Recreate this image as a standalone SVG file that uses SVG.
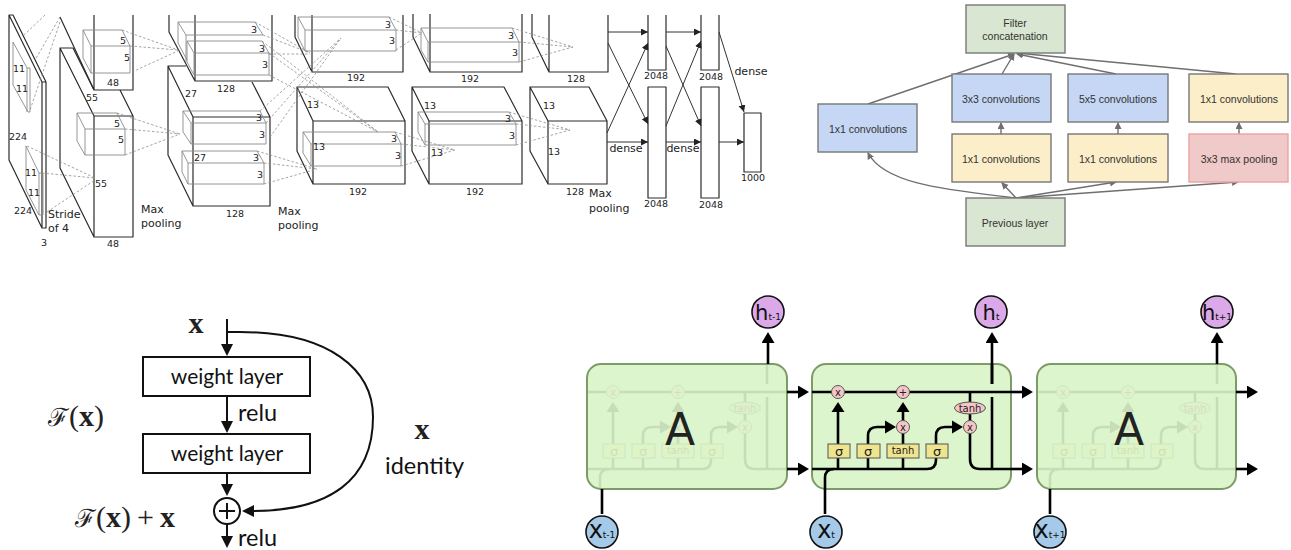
<svg xmlns="http://www.w3.org/2000/svg" width="1291" height="550" viewBox="0 0 1291 550">
<style>
text{font-family:"DejaVu Sans",sans-serif;fill:#222}
.b{fill:none;stroke:#2c2c2c;stroke-width:1.2;stroke-linejoin:round}
.g{fill:none;stroke:#8a8a8a;stroke-width:.9}
.d{fill:none;stroke:#8e8e8e;stroke-width:.8;stroke-dasharray:2.5 2}
.n{font-size:9.500px;text-anchor:middle;dominant-baseline:central}
.l{font-size:11px;text-anchor:middle;dominant-baseline:central}
.ll{font-size:11px;dominant-baseline:central}
.a{fill:none;stroke:#333;stroke-width:1;marker-end:url(#ma)}
.ib{stroke:#777;stroke-width:1.4}
.blue{fill:#c5d7f5}.yel{fill:#fbeec8}.grn{fill:#d9e6d2}.pink{fill:#f0c9c9;stroke:#eca3a3}
.it{font-family:"Liberation Sans",sans-serif;font-size:10.500px;fill:#333;text-anchor:middle;dominant-baseline:central}
.ia{fill:none;stroke:#6f6f6f;stroke-width:1.4;marker-end:url(#mi)}
.rb{fill:#fff;stroke:#111;stroke-width:2}
.ra{fill:none;stroke:#111;stroke-width:2;marker-end:url(#mr)}
.rt{font-family:Lato,"Open Sans",sans-serif;font-size:21px;fill:#111}
.rs{font-family:Lato,"Open Sans",sans-serif;font-size:23.500px;fill:#111}
.m{font-family:"Liberation Serif",serif;font-size:30px;fill:#222}
.k{fill:none;stroke:#000;stroke-width:2.600;stroke-linejoin:round}
.ka{fill:none;stroke:#000;stroke-width:2.600;marker-end:url(#mk)}
.box{fill:#dcf5cc;stroke:#7d9b67;stroke-width:2}
.sg{fill:#f0e58f;stroke:#555;stroke-width:1}
.op{fill:#f5c6c8;stroke:#555;stroke-width:1}
.ot{font-size:10px;text-anchor:middle;dominant-baseline:central;fill:#222}
.hc{fill:#dba9e8;stroke:#111;stroke-width:1.600}
.xc{fill:#a5c9e8;stroke:#111;stroke-width:1.600}
.big{font-size:21px;text-anchor:middle;fill:#111}
.sub{font-size:9px}
</style>
<defs>
<marker id="ma" markerUnits="userSpaceOnUse" markerWidth="8" markerHeight="8" refX="7" refY="3.500" orient="auto"><path d="M0,0L7,3.500L0,7z" fill="#222"/></marker>
<marker id="mi" markerUnits="userSpaceOnUse" markerWidth="8" markerHeight="8" refX="6" refY="3.500" orient="auto"><path d="M0,0L7,3.500L0,7z" fill="#6f6f6f"/></marker>
<marker id="mr" markerUnits="userSpaceOnUse" markerWidth="14" markerHeight="13" refX="2" refY="6" orient="auto"><path d="M0,0L12,6L0,12z" fill="#111"/></marker>
<marker id="mk" markerUnits="userSpaceOnUse" markerWidth="13" markerHeight="14" refX="2" refY="6.500" orient="auto"><path d="M0,0L11,6.500L0,13z" fill="#000"/></marker>
<g id="cell">
<path class="k" d="M812,392H1011"/>
<path class="k" d="M812,469H927Q936,469 936,460V436Q936,427 945,427H952"/>
<path d="M952,420.500L963,427L952,433.500z"/>
<path class="k" d="M838,469V412"/>
<path d="M831.500,412L838,402L844.500,412z"/>
<path class="k" d="M868,469V436Q868,427 877,427H885"/>
<path d="M885,420.500L896,427L885,433.500z"/>
<path class="k" d="M903,469V433M903,421V412"/>
<path d="M896.500,412L903,402L909.500,412z"/>
<path class="k" d="M970,392V459Q970,469 980,469H1011"/>
<path class="k" d="M992,469V397M992,384V364"/>
<path class="k" d="M825,489V478Q825,469 834,469"/>
<rect class="sg" x="828" y="444" width="22" height="14"/><text class="ot" x="839" y="451" style="font-size:13px">σ</text>
<rect class="sg" x="857" y="444" width="23" height="14"/><text class="ot" x="868" y="451" style="font-size:13px">σ</text>
<rect class="sg" x="887" y="444" width="32" height="14"/><text class="ot" x="903" y="450">tanh</text>
<rect class="sg" x="926" y="444" width="22" height="14"/><text class="ot" x="937" y="451" style="font-size:13px">σ</text>
<circle class="op" cx="838" cy="392" r="6.500"/><text class="ot" x="838" y="392">x</text>
<circle class="op" cx="903" cy="392" r="6.500"/><text class="ot" x="903" y="392">+</text>
<circle class="op" cx="903" cy="427" r="6.500"/><text class="ot" x="903" y="427">x</text>
<circle class="op" cx="970" cy="427" r="6.500"/><text class="ot" x="970" y="427">x</text>
<ellipse class="op" cx="970" cy="408" rx="15.500" ry="6"/><text class="ot" x="970" y="408">tanh</text>
</g>
</defs>

<g id="alexnet">
<g id="alex-input">
<path class="b" d="M9,15V160L42,228H46V82L13,15H9L42,82H46M42,82V228"/>
<path class="g" d="M13,42V85L28,112H30V68H27L13,42M27,68V112"/>
<path class="g" d="M26,146V190L39,215H43V173H39L26,146M39,173V215"/>
</g>
<g id="alex-conv1-top">
<path class="b" d="M60,17L94,90H133V15M94,15V90"/>
<path class="g" d="M83,30H122L130,46V73H91V46L83,30V58L91,73M91,46H130"/>
</g>
<g id="alex-conv1-bottom">
<path class="b" d="M120,90L133,116V237H94V116L60,48H73L94,90M94,116H133M60,48V168L94,237"/>
<path class="g" d="M77,113H117L125,129V155H85V129L77,113V141L85,155M85,129H125"/>
</g>
<g id="alex-conv2-top">
<path class="b" d="M169,15V32L195,81H272V15M195,15V81"/>
<path class="g" d="M178,22H255L263,35H186L178,22V43L187,60M186,35V62"/>
<path class="g" d="M187,41H262L269,53V75H194V53L187,41V62L194,75M194,53H269"/>
</g>
<g id="alex-conv2-bottom">
<path class="b" d="M252,82L270,117V206H193V117L168,66H186M193,117H270M168,66V155L193,206"/>
<path class="g" d="M183,111H260L266,123V144H191V123L183,111V132L191,144M191,123H266"/>
<path class="g" d="M182,151H257L264,163V184H188V163L182,151V172L188,184M188,163H264"/>
</g>
<g id="alex-conv3-top">
<path class="b" d="M295,15V37L312,72H403V15M312,15V72"/>
<path class="g" d="M298,17H389L396,30V51H305V30L298,17V37L305,51M305,30H396"/>
</g>
<g id="alex-conv3-bottom">
<path class="b" d="M297,87H388L405,121V184H313V121L297,87V151L313,184M313,121H405"/>
<path class="g" d="M303,132H395L401,144V166H311V144L303,132V153L311,166M311,144H401"/>
</g>
<g id="alex-conv4-top">
<path class="b" d="M413,14V37L430,72H522V14M430,14V72"/>
<path class="g" d="M421,28H512L519,42V62H428V42L421,28V50L428,62M428,42H519"/>
</g>
<g id="alex-conv4-bottom">
<path class="b" d="M412,87H504L522,121V184H429V121L412,87V151L429,184M429,121H522"/>
<path class="g" d="M418,112H509L516,124V145H425V124L418,112V132L425,145M425,124H516"/>
</g>
<g id="alex-conv5-top"><path class="b" d="M532,14V37L549,72H608V15M549,15V72"/></g>
<g id="alex-conv5-bottom"><path class="b" d="M530,87H589L607,121V184H548V121L530,87V151L548,184M548,121H607"/></g>
<g id="alex-dense"><path class="b" d="M648,15V70H666V15M701,15V70H719V15"/>
<rect class="b" x="648" y="87" width="18" height="111"/><rect class="b" x="701" y="87" width="18" height="111"/><rect class="b" x="744" y="113" width="17" height="59"/></g>
<g id="alex-connectors">
<path class="d" d="M45,15L22,37M60,17L35,60M60,22L30,110M27,146L95,178M42,173L95,178M47,212L95,180"/>
<path class="d" d="M122,30L178,50M130,46L178,50M132,72L180,50M117,113L180,134M125,129L180,134M125,155L180,134"/>
<path class="d" d="M255,22L310,53M263,35L310,53M269,54H310M262,41L378,132M269,53L378,132M269,75L378,132"/>
<path class="d" d="M260,111L341,38M266,123L341,38M270,137L341,38M257,151L317,169M264,163L317,169M264,184L317,169"/>
<path class="d" d="M389,17L422,33M396,30L422,33M396,50L422,33M395,132L455,150M401,144L455,150M401,166L455,150"/>
<path class="d" d="M512,28L573,47M519,42L573,47M519,62L573,47M509,112L570,130M516,124L570,130M516,145L570,130"/>
<path class="a" d="M608,32H648"/><path class="a" d="M666,32H701"/><path class="a" d="M608,43L648,124"/><path class="a" d="M666,46L701,126"/>
<path class="a" d="M607,133L648,43"/><path class="a" d="M666,126L701,41"/><path class="a" d="M607,142H648"/><path class="a" d="M666,142H701"/>
<path class="a" d="M719,32L744,112"/><path class="a" d="M719,142H744"/>
</g>
<g id="alex-labels">
<text class="n" x="19" y="68">11</text><text class="n" x="22" y="88">11</text><text class="n" x="18" y="136">224</text><text class="n" x="31" y="172">11</text><text class="n" x="34" y="192">11</text><text class="n" x="23" y="210">224</text>
<text class="ll" x="48" y="214">Stride</text><text class="ll" x="48" y="228">of 4</text><text class="n" x="44" y="242">3</text>
<text class="n" x="92" y="97">55</text><text class="n" x="101" y="183">55</text><text class="n" x="113" y="82">48</text><text class="n" x="113" y="243">48</text>
<text class="n" x="123" y="40">5</text><text class="n" x="127" y="57">5</text><text class="n" x="117" y="123">5</text><text class="n" x="121" y="139">5</text>
<text class="ll" x="141" y="209">Max</text><text class="ll" x="141" y="223">pooling</text>
<text class="n" x="254" y="29">3</text><text class="n" x="262" y="48">3</text><text class="n" x="265" y="64">3</text><text class="n" x="226" y="88">128</text><text class="n" x="191" y="93">27</text><text class="n" x="259" y="117">3</text><text class="n" x="262" y="134">3</text><text class="n" x="200" y="157">27</text><text class="n" x="256" y="157">3</text><text class="n" x="260" y="174">3</text><text class="n" x="235" y="213">128</text>
<text class="ll" x="278" y="211">Max</text><text class="ll" x="278" y="225">pooling</text>
<text class="n" x="388" y="24">3</text><text class="n" x="392" y="40">3</text><text class="n" x="356" y="77">192</text><text class="n" x="313" y="104">13</text><text class="n" x="394" y="138">3</text><text class="n" x="319" y="146">13</text><text class="n" x="398" y="155">3</text><text class="n" x="358" y="191">192</text>
<text class="n" x="511" y="35">3</text><text class="n" x="515" y="52">3</text><text class="n" x="470" y="78">192</text><text class="n" x="430" y="105">13</text><text class="n" x="508" y="118">3</text><text class="n" x="512" y="135">3</text><text class="n" x="437" y="152">13</text><text class="n" x="475" y="191">192</text>
<text class="n" x="576" y="78">128</text><text class="n" x="549" y="105">13</text><text class="n" x="554" y="151">13</text><text class="n" x="575" y="191">128</text>
<text class="ll" x="589" y="193">Max</text><text class="ll" x="589" y="208">pooling</text>
<text class="n" x="656" y="75">2048</text><text class="n" x="711" y="76">2048</text><text class="n" x="656" y="203">2048</text><text class="n" x="711" y="204">2048</text><text class="n" x="753" y="177">1000</text>
<text class="l" x="751" y="71">dense</text><text class="l" x="626" y="148">dense</text><text class="l" x="683" y="148">dense</text>
</g>
</g>

<g id="inception">
<g id="inc-connectors">
<path class="ia" d="M868,104L1014,54"/><path class="ia" d="M1002,74L1014,54"/><path class="ia" d="M1116,74L1017,54"/><path class="ia" d="M1236,74L1017,53"/>
<path class="ia" d="M1001,134V123"/><path class="ia" d="M1118,134V123"/><path class="ia" d="M1239,134V123"/>
<path class="ia" d="M1016,198C950,190 885,185 868,153"/><path class="ia" d="M1016,198L1002,183"/><path class="ia" d="M1016,198L1116,182"/><path class="ia" d="M1016,198L1238,182"/>
</g>
<g id="inc-filter"><rect class="ib grn" x="966" y="5" width="99" height="48"/><text class="it" x="1015" y="23">Filter</text><text class="it" x="1015" y="36">concatenation</text></g>
<g id="inc-3x3"><rect class="ib blue" x="952" y="74" width="99" height="48"/><text class="it" x="1001" y="99">3x3 convolutions</text></g>
<g id="inc-5x5"><rect class="ib blue" x="1068" y="74" width="100" height="48"/><text class="it" x="1118" y="99">5x5 convolutions</text></g>
<g id="inc-1x1-d"><rect class="ib yel" x="1189" y="74" width="99" height="48"/><text class="it" x="1239" y="99">1x1 convolutions</text></g>
<g id="inc-1x1-a"><rect class="ib blue" x="818" y="104" width="99" height="48"/><text class="it" x="868" y="129">1x1 convolutions</text></g>
<g id="inc-1x1-b"><rect class="ib yel" x="952" y="134" width="99" height="48"/><text class="it" x="1001" y="159">1x1 convolutions</text></g>
<g id="inc-1x1-c"><rect class="ib yel" x="1068" y="134" width="100" height="48"/><text class="it" x="1118" y="159">1x1 convolutions</text></g>
<g id="inc-pool"><rect class="ib pink" x="1189" y="134" width="99" height="48"/><text class="it" x="1239" y="159">3x3 max pooling</text></g>
<g id="inc-prev"><rect class="ib grn" x="966" y="198" width="99" height="48"/><text class="it" x="1015" y="223">Previous layer</text></g>
</g>

<g id="resnet">
<g id="res-connectors">
<path class="ra" d="M227,319V346"/><path class="ra" d="M227,396V423"/><path class="ra" d="M227,473V486"/><path class="ra" d="M227,524V538"/>
<path class="ra" d="M227,332H240C330,332 373,370 373,417C373,480 330,511 252,511"/>
</g>
<g id="res-layer1"><rect class="rb" x="143" y="357" width="167" height="39"/><text class="rt" x="227" y="384" text-anchor="middle">weight layer</text></g>
<g id="res-layer2"><rect class="rb" x="143" y="434" width="167" height="39"/><text class="rt" x="227" y="461" text-anchor="middle">weight layer</text></g>
<g id="res-sum"><circle cx="227" cy="511" r="13" fill="#fff" stroke="#111" stroke-width="2"/><path d="M219,511H235M227,503V519" stroke="#111" stroke-width="2"/></g>
<g id="res-labels">
<text class="rs" x="238" y="421">relu</text><text class="rs" x="238" y="546">relu</text><text class="rs" x="385" y="474">identity</text>
<text class="m" x="196" y="333" text-anchor="middle" font-weight="bold">x</text>
<text class="m" x="422" y="439" text-anchor="middle" font-weight="bold">x</text>
<text class="m" x="48" y="426"><tspan font-family="DejaVu Serif" font-size="25">ℱ</tspan>(<tspan font-weight="bold">x</tspan>)</text>
<text class="m" x="75" y="527"><tspan font-family="DejaVu Serif" font-size="25">ℱ</tspan>(<tspan font-weight="bold">x</tspan>)<tspan dx="6">+</tspan><tspan dx="6" font-weight="bold">x</tspan></text>
</g>
</g>

<g id="lstm">
<g id="lstm-cell-left">
<rect x="587" y="364" width="200" height="125" rx="14" fill="#dcf5cc"/>
<use href="#cell" transform="translate(-225,0)"/>
<rect class="box" x="587" y="364" width="200" height="125" rx="14" fill-opacity=".9" style="stroke:none"/>
<rect x="587" y="364" width="200" height="125" rx="14" fill="none" stroke="#7d9b67" stroke-width="2"/>
<text x="680" y="445" font-size="44" text-anchor="middle" fill="#111">A</text>
</g>
<g id="lstm-cell-middle">
<rect class="box" x="812" y="364" width="199" height="125" rx="14"/>
<use href="#cell"/>
</g>
<g id="lstm-cell-right">
<rect x="1037" y="364" width="199" height="125" rx="14" fill="#dcf5cc"/>
<use href="#cell" transform="translate(225,0)"/>
<rect class="box" x="1037" y="364" width="199" height="125" rx="14" fill-opacity=".9" style="stroke:none"/>
<rect x="1037" y="364" width="199" height="125" rx="14" fill="none" stroke="#7d9b67" stroke-width="2"/>
<text x="1129" y="445" font-size="44" text-anchor="middle" fill="#111">A</text>
</g>
<g id="lstm-connectors">
<path class="ka" d="M787,392H800"/><path class="ka" d="M787,469H800"/>
<path class="ka" d="M1011,392H1024"/><path class="ka" d="M1011,469H1024"/>
<path class="ka" d="M1236,392H1249"/><path class="ka" d="M1236,469H1249"/>
<path class="ka" d="M768,364V341"/><path class="ka" d="M992,384V341"/><path class="ka" d="M1217,364V341"/>
<path class="k" d="M602,489V514M825,489V514M1050,489V514"/>
</g>
<g id="h-prev"><circle class="hc" cx="768" cy="312" r="16"/><text class="big" x="768" y="320">h<tspan class="sub">t-1</tspan></text></g>
<g id="h-cur"><circle class="hc" cx="991" cy="312" r="16"/><text class="big" x="991" y="320">h<tspan class="sub">t</tspan></text></g>
<g id="h-next"><circle class="hc" cx="1217" cy="312" r="16"/><text class="big" x="1217" y="320">h<tspan class="sub">t+1</tspan></text></g>
<g id="x-prev"><circle class="xc" cx="602" cy="532" r="16"/><text class="big" x="602" y="538" style="font-size:24px">x<tspan class="sub">t-1</tspan></text></g>
<g id="x-cur"><circle class="xc" cx="826" cy="532" r="16"/><text class="big" x="826" y="538" style="font-size:24px">x<tspan class="sub">t</tspan></text></g>
<g id="x-next"><circle class="xc" cx="1050" cy="532" r="16"/><text class="big" x="1050" y="538" style="font-size:24px">x<tspan class="sub">t+1</tspan></text></g>
</g>
</svg>
